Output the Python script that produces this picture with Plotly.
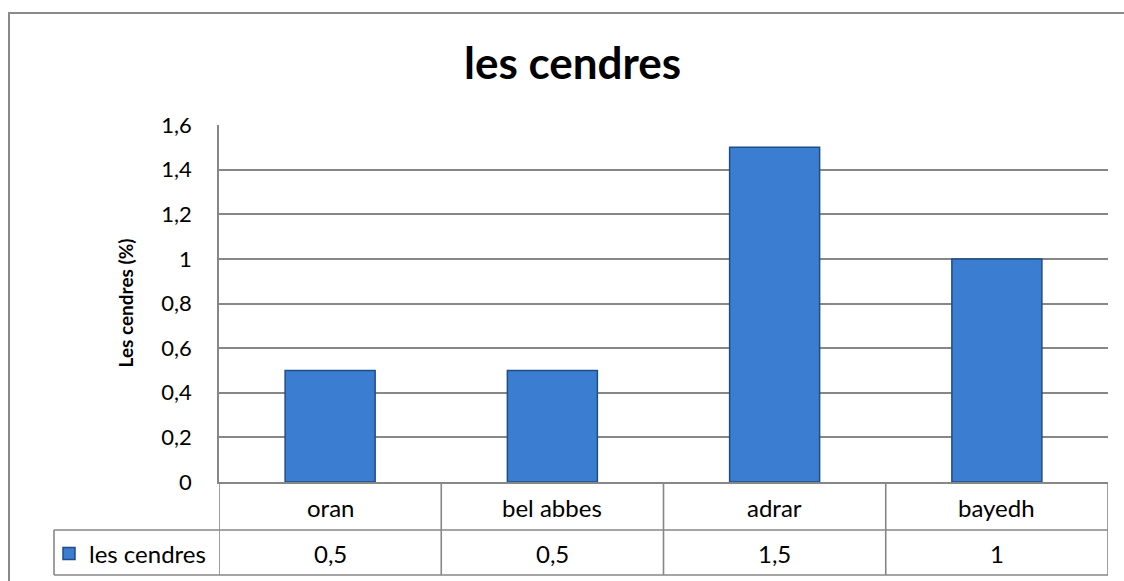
import plotly.graph_objects as go

# données
regions = ["oran", "bel abbes", "adrar", "bayedh"]
cendres = [0.5, 0.5, 1.5, 1]
serie = "les cendres"

W, H = 1124, 581
PLOT_L, PLOT_R, PLOT_T, PLOT_B = 219, 1108, 125, 482   # coordonnées écran
L, T = PLOT_L, PLOT_T
R, B = W - PLOT_R, H - PLOT_B
PW, PH = PLOT_R - PLOT_L, PLOT_B - PLOT_T


def sx(p):
    return (p - PLOT_L) / PW


def sy(p):
    return (PLOT_B - p) / PH


FONT = "Lato, Carlito, Calibri, sans-serif"
GRID = "#878787"

fig = go.Figure()
fig.add_trace(go.Bar(
    x=regions,
    y=cendres,
    name=serie,
    marker=dict(color="#3b7dd1", line=dict(color="#1f4d85", width=1.5)),
    showlegend=True,
))

shapes = []
# lignes du tableau de données
row1 = sy(530)
row2 = sy(575)
n = len(regions)
for i in range(n + 1):
    shapes.append(dict(type="line", xref="x", yref="paper", x0=i - 0.5, x1=i - 0.5,
                       y0=0, y1=row2, line=dict(color=GRID, width=1.6)))
for yy in (row1, row2):
    shapes.append(dict(type="line", xref="paper", yref="paper", x0=sx(54), x1=1,
                       y0=yy, y1=yy, line=dict(color=GRID, width=1.6)))
shapes.append(dict(type="line", xref="paper", yref="paper", x0=sx(54), x1=sx(54),
                   y0=row1, y1=row2, line=dict(color=GRID, width=1.6)))
# cadre du graphique
shapes.append(dict(type="rect", xref="paper", yref="paper", x0=sx(9), x1=sx(1150),
                   y0=sy(610), y1=sy(13), line=dict(color="#8a8a8a", width=2)))

annotations = []
for reg, v in zip(regions, cendres):
    annotations.append(dict(x=reg, xref="x", yref="paper", y=sy(507), text=reg,
                            showarrow=False, yanchor="middle",
                            font=dict(family=FONT, size=24, color="#000000")))
    annotations.append(dict(x=reg, xref="x", yref="paper", y=sy(553),
                            text=f"{v:g}".replace(".", ","),
                            showarrow=False, yanchor="middle",
                            font=dict(family=FONT, size=24, color="#000000")))
annotations.append(dict(x=sx(572), xref="paper", y=sy(62), yref="paper",
                        text="<b>les cendres</b>", showarrow=False,
                        xanchor="center", yanchor="middle",
                        font=dict(family=FONT, size=44, color="#000000")))
annotations.append(dict(x=sx(125), xref="paper", y=0.5, yref="paper",
                        text="<b>Les cendres (%)</b>", showarrow=False, textangle=-90,
                        xanchor="center", yanchor="middle",
                        font=dict(family=FONT, size=19, color="#000000")))

fig.update_layout(
    width=W, height=H,
    margin=dict(l=L, r=R, t=T, b=B, autoexpand=False),
    paper_bgcolor="white", plot_bgcolor="white",
    separators=", ",
    bargap=0.595,
    font=dict(family=FONT, size=22, color="#000000"),
    shapes=shapes,
    annotations=annotations,
    legend=dict(x=sx(49), y=sy(554), xanchor="left", yanchor="middle",
                bgcolor="rgba(0,0,0,0)", font=dict(family=FONT, size=24),
                itemwidth=30),
)
fig.update_xaxes(range=[-0.5, n - 0.5], showticklabels=False, showgrid=False,
                 showline=True, linecolor=GRID, linewidth=1.6, zeroline=False)
fig.update_yaxes(range=[0, 1.6], dtick=0.2, showgrid=True, gridcolor=GRID, gridwidth=1.6,
                 showline=True, linecolor=GRID, linewidth=1.6, zeroline=False,
                 ticks="", ticklabelstandoff=21,
                 tickfont=dict(family=FONT, size=22, color="#000000"))

# pas de marge de page autour de la figure
fig.write_html("out.html", config={"displayModeBar": False},
               post_script="document.body.style.margin='0';document.body.style.overflow='hidden';")
